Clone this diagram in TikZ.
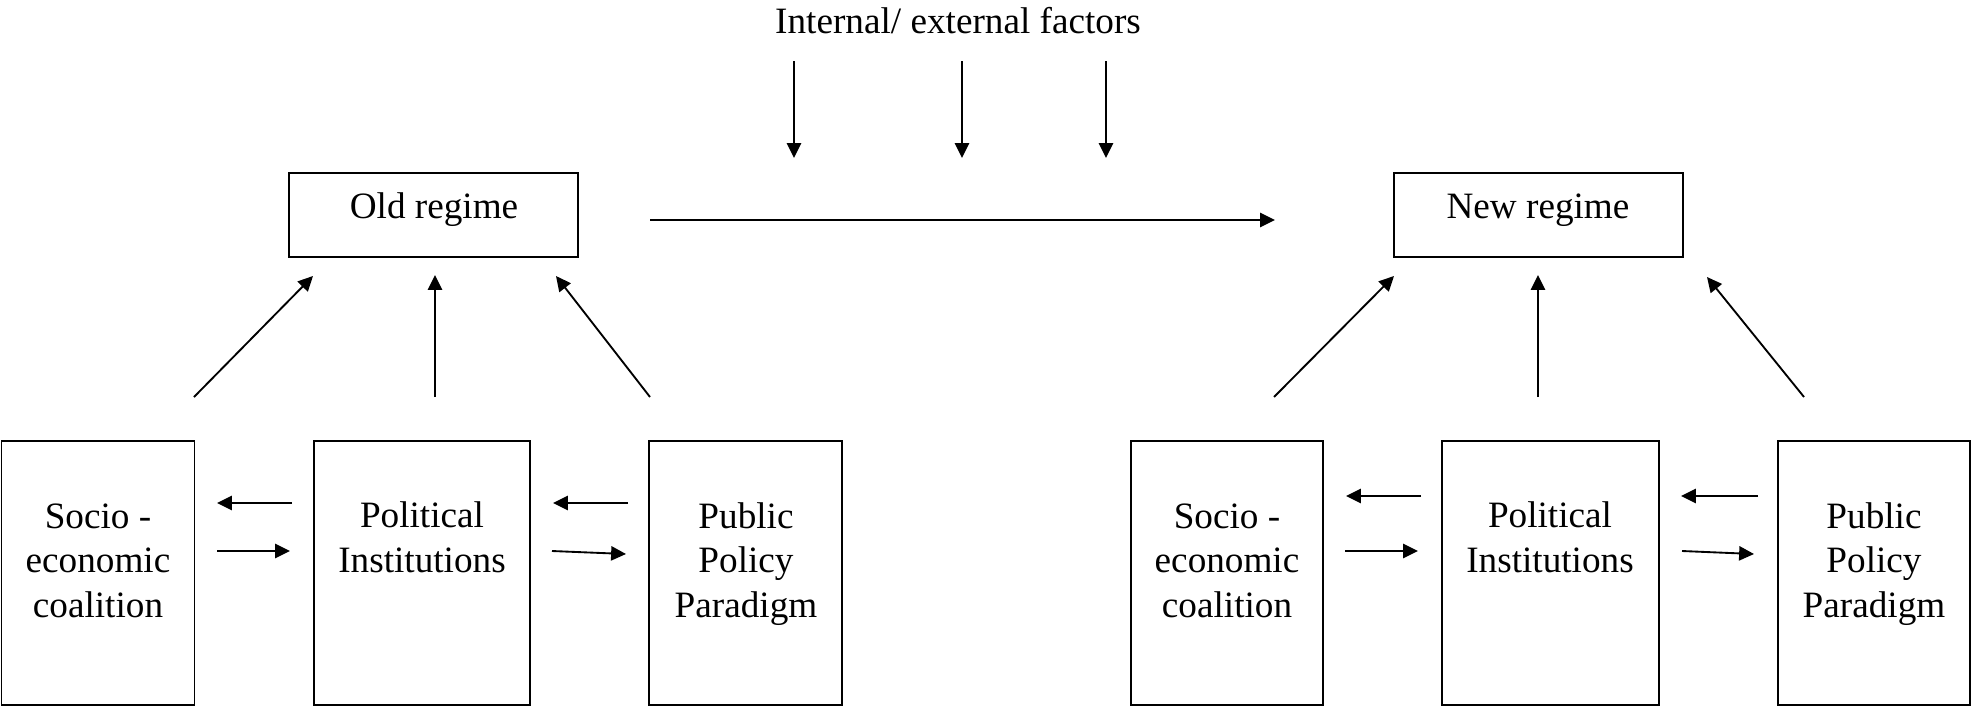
\documentclass[tikz,border=0pt]{standalone}
\usepackage{fontspec}
\setmainfont{Liberation Serif}
\usetikzlibrary{arrows.meta}
\begin{document}
\begin{tikzpicture}[x=0.32258pt,y=-0.32258pt,
  box/.style={draw,line width=0.6pt,inner sep=0pt},
  lbl/.style={anchor=base,align=center,inner sep=0pt,
    font=\fontsize{12}{14.3}\selectfont},
  arr/.style={line width=0.6pt,-{Triangle[length=4.8pt,width=4.6pt]}}]
\useasboundingbox (0,0) rectangle (1971,708);

% heading
\node[lbl] (factors) at (958,33) {Internal/ external factors};

% regime boxes
\node[box,minimum width=289*0.32258pt,minimum height=84*0.32258pt] (old) at (433.5,215) {};
\node[box,minimum width=289*0.32258pt,minimum height=84*0.32258pt] (new) at (1538.5,215) {};
\node[lbl] (oldt) at (434,218) {Old regime};
\node[lbl] (newt) at (1538,218) {New regime};

% lower boxes, old regime side
\node[box,minimum width=193*0.32258pt,minimum height=264*0.32258pt] (soc1) at (98,573) {};
\node[box,minimum width=216*0.32258pt,minimum height=264*0.32258pt] (pol1) at (422,573) {};
\node[box,minimum width=193*0.32258pt,minimum height=264*0.32258pt] (pub1) at (745.5,573) {};
% lower boxes, new regime side
\node[box,minimum width=192*0.32258pt,minimum height=264*0.32258pt] (soc2) at (1227,573) {};
\node[box,minimum width=217*0.32258pt,minimum height=264*0.32258pt] (pol2) at (1550.5,573) {};
\node[box,minimum width=192*0.32258pt,minimum height=264*0.32258pt] (pub2) at (1874,573) {};

% box texts, placed by the baseline of their last line
\node[lbl] (soc1t) at (98,617) {Socio -\\economic\\coalition};
\node[lbl] (pol1t) at (422,572) {Political\\Institutions};
\node[lbl] (pub1t) at (746,617) {Public\\Policy\\Paradigm};
\node[lbl] (soc2t) at (1227,617) {Socio -\\economic\\coalition};
\node[lbl] (pol2t) at (1550,572) {Political\\Institutions};
\node[lbl] (pub2t) at (1874,617) {Public\\Policy\\Paradigm};

% arrow end points
\coordinate (f1a) at (794,61);  \coordinate (f1b) at (794,158);
\coordinate (f2a) at (962,61);  \coordinate (f2b) at (962,158);
\coordinate (f3a) at (1106,61); \coordinate (f3b) at (1106,158);
\coordinate (ta) at (650,220);  \coordinate (tb) at (1275,220);

\coordinate (u1a) at (194,397); \coordinate (u1b) at (313,276);
\coordinate (u2a) at (435,397); \coordinate (u2b) at (435,275);
\coordinate (u3a) at (650,397); \coordinate (u3b) at (556,276);
\coordinate (v1a) at (1274,397); \coordinate (v1b) at (1394,276);
\coordinate (v2a) at (1538,397); \coordinate (v2b) at (1538,275);
\coordinate (v3a) at (1804,397); \coordinate (v3b) at (1707,277);

\coordinate (h1a) at (292,503); \coordinate (h1b) at (217,503);
\coordinate (h2a) at (217,551); \coordinate (h2b) at (290,551);
\coordinate (h3a) at (628,503); \coordinate (h3b) at (553,503);
\coordinate (h4a) at (552,551); \coordinate (h4b) at (626,554);
\coordinate (k1a) at (1421,496); \coordinate (k1b) at (1346,496);
\coordinate (k2a) at (1345,551); \coordinate (k2b) at (1418,551);
\coordinate (k3a) at (1758,496); \coordinate (k3b) at (1681,496);
\coordinate (k4a) at (1682,551); \coordinate (k4b) at (1754,554);

% external pressures and transition
\draw[arr] (f1a) -- (f1b);
\draw[arr] (f2a) -- (f2b);
\draw[arr] (f3a) -- (f3b);
\draw[arr] (ta) -- (tb);

% pillars supporting each regime
\draw[arr] (u1a) -- (u1b);
\draw[arr] (u2a) -- (u2b);
\draw[arr] (u3a) -- (u3b);
\draw[arr] (v1a) -- (v1b);
\draw[arr] (v2a) -- (v2b);
\draw[arr] (v3a) -- (v3b);

% mutual influences between pillars
\draw[arr] (h1a) -- (h1b);
\draw[arr] (h2a) -- (h2b);
\draw[arr] (h3a) -- (h3b);
\draw[arr] (h4a) -- (h4b);
\draw[arr] (k1a) -- (k1b);
\draw[arr] (k2a) -- (k2b);
\draw[arr] (k3a) -- (k3b);
\draw[arr] (k4a) -- (k4b);
\end{tikzpicture}
\end{document}
